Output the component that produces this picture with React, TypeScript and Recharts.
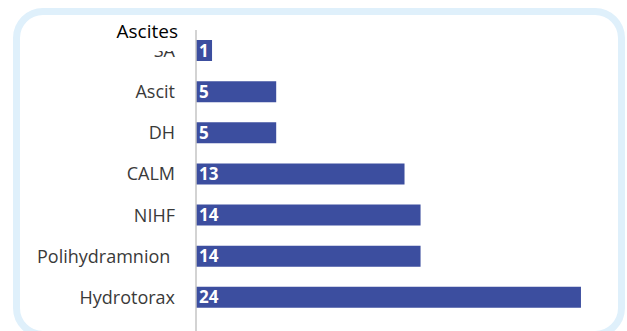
import { Bar, BarChart, LabelList, XAxis, YAxis } from "recharts";

const categories = ["SA", "Ascit", "DH", "CALM", "NIHF", "Polihydramnion\u00a0", "Hydrotorax"];
const counts = [1, 5, 5, 13, 14, 14, 24];
const overlayTitle = "Ascites";

const data = categories.map((name, i) => ({ name, value: counts[i] }));

const FONT = "'Open Sans', sans-serif";
const BAR_COLOR = "#3c4e9f";

export default function App() {
  return (
    <div
      style={{
        position: "absolute",
        left: 0,
        top: 0,
        width: 627,
        height: 331,
        overflow: "hidden",
        background: "#fff",
        fontFamily: FONT,
      }}
    >
      <div
        style={{
          position: "absolute",
          left: 13,
          top: 8,
          width: 612,
          height: 330,
          boxSizing: "border-box",
          border: "7px solid #dff0fb",
          borderRadius: 30,
        }}
      />
      <div style={{ position: "absolute", left: 0, top: 0 }}>
        <BarChart
          width={627}
          height={331}
          data={data}
          layout="vertical"
          margin={{ top: 30, right: 30, bottom: 0, left: 0 }}
        >
          <XAxis type="number" hide domain={[0, 25]} />
          <YAxis
            type="category"
            dataKey="name"
            width={196}
            padding={{ top: 0, bottom: 13 }}
            tickLine={false}
            tickMargin={15}
            axisLine={{ stroke: "#c4c4c4", strokeWidth: 1.5 }}
            tick={{ fontSize: 18, fill: "#3a3a3a", fontFamily: FONT }}
            interval={0}
          />
          <Bar dataKey="value" fill={BAR_COLOR} barSize={21} isAnimationActive={false}>
            <LabelList
              dataKey="value"
              position="insideLeft"
              offset={3}
              fill="#fff"
              fontSize={17}
              fontWeight="bold"
              fontFamily={FONT}
            />
          </Bar>
        </BarChart>
      </div>
      <div
        style={{
          position: "absolute",
          left: 100,
          top: 18,
          width: 78,
          height: 33,
          background: "#fff",
          color: "#000",
          fontSize: 19,
          lineHeight: "26px",
          textAlign: "right",
        }}
      >
        {overlayTitle}
      </div>
    </div>
  );
}
